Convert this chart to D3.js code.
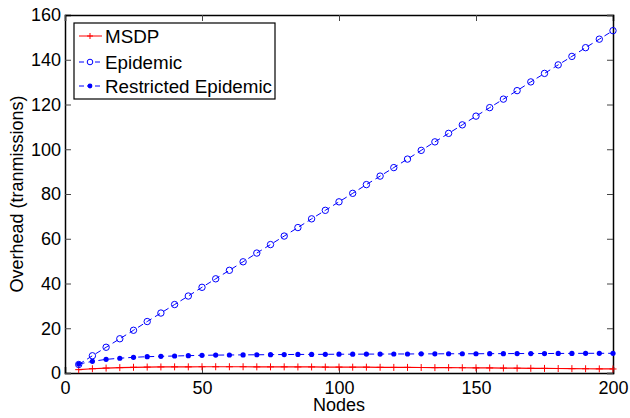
<!doctype html>
<html>
<head>
<meta charset="utf-8">
<script src="https://d3js.org/d3.v7.min.js"></script>
<style>
  body { margin: 0; background: #fff; }
  text { font-family: "Liberation Sans", Arial, Helvetica, sans-serif; }
</style>
</head>
<body>
<div id="chart"></div>
<script>
// data
var nodes = [5, 10, 15, 20, 25, 30, 35, 40, 45, 50, 55, 60, 65, 70, 75, 80, 85, 90, 95, 100,
             105, 110, 115, 120, 125, 130, 135, 140, 145, 150, 155, 160, 165, 170, 175, 180, 185, 190, 195, 200];
var msdp = [1.5, 1.9, 2.2, 2.4, 2.55, 2.65, 2.7, 2.75, 2.75, 2.8, 2.8, 2.8, 2.8, 2.75, 2.75, 2.75, 2.7, 2.7, 2.65, 2.65,
            2.6, 2.6, 2.55, 2.5, 2.5, 2.45, 2.4, 2.4, 2.35, 2.3, 2.25, 2.2, 2.15, 2.1, 2.05, 2.0, 1.95, 1.9, 1.85, 1.8];
var epidemic = [3.8, 7.7, 11.5, 15.3, 19.1, 23.0, 26.8, 30.6, 34.4, 38.3, 42.1, 45.9, 49.7, 53.6, 57.4, 61.2, 65.0, 68.9, 72.7, 76.5,
                80.3, 84.2, 88.0, 91.8, 95.6, 99.5, 103.3, 107.1, 110.9, 114.8, 118.6, 122.4, 126.2, 130.1, 133.9, 137.7, 141.5, 145.4, 149.2, 153.0];
var restricted = [4.0, 5.2, 6.1, 6.6, 7.0, 7.3, 7.45, 7.6, 7.75, 7.9, 8.0, 8.05, 8.1, 8.15, 8.2, 8.25, 8.3, 8.3, 8.35, 8.4,
                  8.4, 8.45, 8.45, 8.5, 8.5, 8.55, 8.55, 8.6, 8.6, 8.6, 8.65, 8.65, 8.7, 8.7, 8.7, 8.75, 8.75, 8.8, 8.8, 8.8];
var xTicks = [0, 50, 100, 150, 200];
var yTicks = [0, 20, 40, 60, 80, 100, 120, 140, 160];
var seriesNames = ["MSDP", "Epidemic", "Restricted Epidemic"];

var W = 630, H = 418;
var margin = {top: 15, right: 17, bottom: 45, left: 65};
var width = W - margin.left - margin.right,
    height = H - margin.top - margin.bottom;

var svg = d3.select("#chart").append("svg")
    .attr("width", W).attr("height", H);
var g = svg.append("g")
    .attr("transform", "translate(" + margin.left + "," + margin.top + ")");

var x = d3.scaleLinear().domain([0, 200]).range([0, width]);
var y = d3.scaleLinear().domain([0, 160]).range([height, 0]);

// axes with inward ticks on all four sides (matlab box)
var tl = 6;
g.append("g").attr("transform", "translate(0," + height + ")")
    .call(d3.axisBottom(x).tickValues(xTicks).tickSize(-tl).tickPadding(8));
g.append("g")
    .call(d3.axisLeft(y).tickValues(yTicks).tickSize(-tl).tickPadding(4));
g.append("g")
    .call(d3.axisTop(x).tickValues(xTicks).tickSize(-tl).tickFormat(""));
g.append("g").attr("transform", "translate(" + width + ",0)")
    .call(d3.axisRight(y).tickValues(yTicks).tickSize(-tl).tickFormat(""));
g.selectAll(".domain").attr("stroke", "#000").attr("stroke-width", 1.5);
g.selectAll(".tick line").attr("stroke", "#444");
g.selectAll(".tick text").attr("font-size", 18).attr("fill", "#000")
    .attr("font-family", "'Liberation Sans', Arial, sans-serif");

// axis labels
g.append("text")
    .attr("x", width / 2).attr("y", height + 38)
    .attr("text-anchor", "middle").attr("font-size", 18)
    .text("Nodes");
g.append("text")
    .attr("transform", "rotate(-90)")
    .attr("x", -height / 2).attr("y", -42)
    .attr("text-anchor", "middle").attr("font-size", 18)
    .text("Overhead (tranmissions)");

function series(vals) {
    return nodes.map(function(n, i) { return {x: n, y: vals[i]}; });
}
var line = d3.line().x(function(d) { return x(d.x); }).y(function(d) { return y(d.y); });

// MSDP: red solid with plus markers
var dMs = series(msdp);
g.append("path").datum(dMs).attr("d", line)
    .attr("fill", "none").attr("stroke", "#f00").attr("stroke-width", 1.2);
g.selectAll(".plus").data(dMs).enter().append("path")
    .attr("d", function(d) {
        var px = x(d.x), py = y(d.y), s = 3.5;
        return "M" + (px - s) + "," + py + "H" + (px + s) + "M" + px + "," + (py - s) + "V" + (py + s);
    })
    .attr("stroke", "#f00").attr("stroke-width", 1);

// Epidemic: blue dashed with open circles
var dEp = series(epidemic);
g.append("path").datum(dEp).attr("d", line)
    .attr("fill", "none").attr("stroke", "#00f").attr("stroke-width", 1)
    .attr("stroke-dasharray", "6,4");
g.selectAll(".circ").data(dEp).enter().append("circle")
    .attr("cx", function(d) { return x(d.x); })
    .attr("cy", function(d) { return y(d.y); })
    .attr("r", 3.2).attr("fill", "none").attr("stroke", "#00f").attr("stroke-width", 1);

// Restricted Epidemic: blue dashed with filled dots
var dRe = series(restricted);
g.append("path").datum(dRe).attr("d", line)
    .attr("fill", "none").attr("stroke", "#00f").attr("stroke-width", 1)
    .attr("stroke-dasharray", "6,4");
g.selectAll(".dot").data(dRe).enter().append("circle")
    .attr("cx", function(d) { return x(d.x); })
    .attr("cy", function(d) { return y(d.y); })
    .attr("r", 2.6).attr("fill", "#00f");

// legend
var lg = svg.append("g").attr("transform", "translate(74,23)");
lg.append("rect").attr("width", 201).attr("height", 76)
    .attr("fill", "#fff").attr("stroke", "#000").attr("stroke-width", 1.2);
var rows = [13, 39, 63];
seriesNames.forEach(function(name, i) {
    var ry = rows[i];
    var col = i === 0 ? "#f00" : "#00f";
    lg.append("line").attr("x1", 5).attr("x2", 28).attr("y1", ry).attr("y2", ry)
        .attr("stroke", col).attr("stroke-width", 1)
        .attr("stroke-dasharray", i === 0 ? null : "5,3");
    if (i === 0) {
        lg.append("path").attr("d", "M13," + ry + "H19M16," + (ry - 3) + "V" + (ry + 3))
            .attr("stroke", col);
    } else if (i === 1) {
        lg.append("circle").attr("cx", 16).attr("cy", ry).attr("r", 2.8)
            .attr("fill", "#fff").attr("stroke", col);
    } else {
        lg.append("circle").attr("cx", 16).attr("cy", ry).attr("r", 2.4).attr("fill", col);
    }
    lg.append("text").attr("x", 31).attr("y", ry + 6.5)
        .attr("font-size", 18.8).text(name);
});
</script>
</body>
</html>
